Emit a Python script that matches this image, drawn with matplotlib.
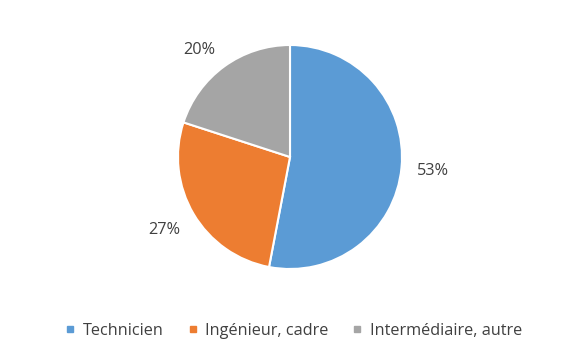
import numpy as np
import matplotlib.pyplot as plt
from matplotlib.lines import Line2D

plt.rcParams['font.family'] = ['Open Sans', 'DejaVu Sans']

categories = ["Technicien", "Ingénieur, cadre", "Intermédiaire, autre"]
values = [53, 27, 20]
colors = ["#5B9BD5", "#ED7D31", "#A5A5A5"]
text_color = "#404040"

fig = plt.figure(figsize=(5.83, 3.53), dpi=100)
# pie axes: centre (290,157) px, radius 112 px
ax = fig.add_axes([(290 - 112) / 583, 1 - (157 + 112) / 353, 224 / 583, 224 / 353])
wedges, texts, autotexts = ax.pie(
  values, colors=colors, startangle=90, counterclock=False,
  autopct="%1.0f%%", pctdistance=1.14,
  wedgeprops=dict(edgecolor="white", linewidth=1.5),
  textprops=dict(color=text_color, fontsize=11.7))

# "outside end" labels: corner of the text box sits on the anchor point
for w, t in zip(wedges, autotexts):
  ang = np.deg2rad((w.theta1 + w.theta2) / 2)
  c, s = np.cos(ang), np.sin(ang)
  t.set_ha("left" if c > 0.3 else ("right" if c < -0.3 else "center"))
  t.set_va("baseline" if s > 0.3 else ("top" if s < -0.3 else "center_baseline"))

ax.set_aspect("equal")
ax.set_xlim(-1, 1)
ax.set_ylim(-1, 1)

handles = [Line2D([], [], marker="s", linestyle="none", markersize=3.8,
                  markerfacecolor=c, markeredgecolor=c) for c in colors]
leg = fig.legend(handles, categories, loc="center", bbox_to_anchor=(294 / 583, 1 - 331 / 353),
                 ncol=3, frameon=False, fontsize=11.7, handlelength=0.5, handletextpad=0.5,
                 columnspacing=1.55, labelcolor=text_color)

fig.savefig("out.png", dpi=100)
